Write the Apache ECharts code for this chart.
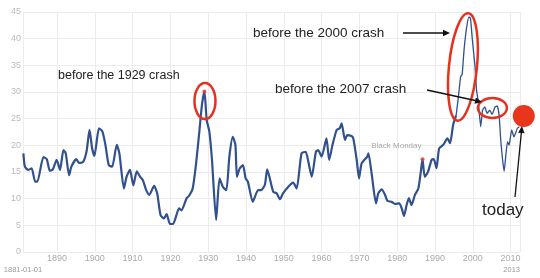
<!DOCTYPE html>
<html><head><meta charset="utf-8">
<script src="https://cdn.jsdelivr.net/npm/echarts@6/dist/echarts.min.js"></script>
<style>html,body{margin:0;padding:0;background:#fff}#c{width:540px;height:278px}</style>
</head><body><div id="c"></div>
<script>
// Shiller P/E (CAPE): decimal year and value
const years = [1881.1,1881.5,1882.4,1883.3,1884.2,1884.8,1886.4,1887.3,1888.1,1888.9,1889.9,1890.8,1891.7,1892.3,1893.2,1893.8,1895.1,1895.8,1896.9,1897.8,1898.6,1899.3,1899.9,1901.1,1902.0,1902.8,1903.7,1904.6,1905.8,1906.5,1907.7,1908.4,1909.3,1910.2,1911.1,1912.0,1912.7,1913.6,1914.4,1915.7,1916.5,1917.4,1918.3,1919.0,1919.9,1920.7,1922.3,1922.9,1924.3,1924.9,1925.9,1926.8,1927.7,1928.4,1929.0,1929.6,1930.3,1931.0,1932.1,1933.0,1933.9,1934.8,1935.6,1936.5,1937.2,1937.6,1938.3,1939.2,1939.9,1940.5,1941.8,1943.2,1944.0,1945.0,1945.6,1946.3,1947.2,1948.1,1949.0,1949.8,1951.2,1952.5,1953.4,1954.7,1955.8,1956.5,1957.4,1958.5,1959.1,1960.0,1961.3,1962.0,1962.9,1964.0,1964.8,1965.3,1966.2,1966.8,1967.9,1968.4,1969.3,1969.9,1970.6,1972.1,1972.4,1973.3,1974.4,1975.0,1975.9,1976.8,1977.4,1978.5,1979.4,1980.5,1981.2,1981.8,1982.5,1983.1,1983.8,1984.7,1985.6,1986.2,1986.7,1987.3,1988.2,1989.1,1989.7,1990.4,1991.1,1992.2,1993.3,1994.0,1994.8,1995.6,1996.2,1996.8,1997.2,1997.7,1998.4,1999.0,1999.4,1999.9,2000.6,2001.0,2001.5,2002.1,2002.6,2003.2,2003.8,2004.5,2005.1,2005.9,2006.5,2007.0,2007.4,2007.9,2008.3,2008.8,2009.2,2009.6,2010.3,2010.9,2011.8,2012.3];
const cape = [18.5,16.0,15.4,15.7,13.2,13.2,17.8,17.4,15.2,15.5,17.3,15.4,19.1,18.5,14.4,16.0,17.4,16.7,16.9,18.8,22.9,19.4,18.0,23.2,22.6,20.1,16.3,16.0,20.1,18.5,11.9,14.1,15.4,12.5,15.1,14.1,13.5,11.6,10.7,12.4,11.0,6.9,6.3,7.1,5.25,5.25,8.2,7.8,10.1,10.5,11.9,16.6,22.9,27.9,30.1,24.75,22.6,17.3,6.0,13.8,12.2,11.6,17.9,21.6,20.1,14.1,15.6,16.3,13.8,13.2,9.4,11.6,11.6,12.6,15.5,13.8,11.3,11.0,9.9,11.0,12.25,13.0,11.9,18.5,18.8,16.9,14.1,18.8,19.1,17.9,21.3,17.25,20.1,22.9,23.2,24.1,21.0,21.9,21.75,21.3,17.25,13.8,16.6,17.9,18.5,14.4,9.1,11.0,11.75,10.7,9.6,9.4,9.0,9.1,8.2,6.75,8.8,10.1,8.8,10.7,11.9,14.75,17.4,14.1,15.1,17.25,17.4,15.7,19.4,20.1,21.3,20.4,23.8,25.6,29.1,32.9,33.3,37.9,42.2,44.1,43.8,39.75,34.75,30.4,27.9,23.5,26.6,27.2,26.0,26.6,25.8,27.2,27.4,25.4,21.0,17.25,15.1,18.5,20.7,20.0,22.9,21.6,23.2,23.5];
const decadeTicks = [1890,1900,1910,1920,1930,1940,1950,1960,1970,1980,1990,2000,2010];
const edgeTicks = [1881, 2012.5];
const edgeLabels = ['1881-01-01', '2013'];
const splitYear = 1995.6;
const eventPoints = [[1929.0, 30.1], [1986.7, 17.4]];

const pairs = years.map((y, i) => [y, cape[i]]);
const early = pairs.filter(p => p[0] <= splitYear);
const late = pairs.filter(p => p[0] >= splitYear);

const chart = echarts.init(document.getElementById('c'), null, {renderer: 'canvas'});
const FONT = '"Liberation Sans", Arial, Helvetica, sans-serif';
const LINE = '#30518c';
chart.setOption({
  animation: false,
  backgroundColor: '#fff',
  grid: {left: 23, right: 20, top: 12, bottom: 26},
  xAxis: [{
    type: 'value', min: 1881, max: 2012.5,
    axisLine: {show: false}, axisTick: {show: false, customValues: decadeTicks.concat(edgeTicks)},
    splitLine: {show: true, lineStyle: {color: '#ececec', width: 1}},
    axisLabel: {customValues: decadeTicks, color: '#aaa', fontSize: 9, fontFamily: FONT, margin: 2, formatter: v => String(v)}
  }, {
    type: 'value', min: 1881, max: 2012.5, position: 'bottom', offset: 12,
    axisLine: {show: false}, axisTick: {show: false}, splitLine: {show: false},
    axisLabel: {customValues: edgeTicks, color: '#999', fontSize: 7.5, fontFamily: FONT, margin: 2,
      formatter: v => edgeLabels[edgeTicks.indexOf(v)] || '',
      alignMaxLabel: 'right'}
  }],
  yAxis: {
    type: 'value', min: 0, max: 45, interval: 5,
    axisLine: {show: false}, axisTick: {show: false},
    splitLine: {lineStyle: {color: '#ececec', width: 1}},
    axisLabel: {color: '#bbb', fontSize: 9, fontFamily: FONT, margin: 2}
  },
  series: [{
    type: 'line', data: early, showSymbol: false, smooth: 0.2,
    lineStyle: {color: LINE, width: 2.2}, z: 3
  }, {
    type: 'line', data: late, showSymbol: false, smooth: 0.15,
    lineStyle: {color: LINE, width: 1.3}, z: 3
  }, {
    type: 'scatter', data: eventPoints, symbolSize: 4, itemStyle: {color: '#e53b2c'}, z: 4
  }]
});

const px = (x, y) => chart.convertToPixel({xAxisIndex: 0, yAxisIndex: 0}, [x, y]);
function arrow(x1, y1, x2, y2) {
  const a = Math.atan2(y2 - y1, x2 - x1), L = 7, W = 3.2;
  const bx = x2 - L * Math.cos(a), by = y2 - L * Math.sin(a);
  return [
    {type: 'line', shape: {x1, y1, x2: bx, y2: by}, style: {stroke: '#111', lineWidth: 1.3}, z: 10},
    {type: 'polygon', shape: {points: [[x2, y2], [bx - W * Math.sin(a), by + W * Math.cos(a)], [bx + W * Math.sin(a), by - W * Math.cos(a)]]}, style: {fill: '#111'}, z: 10}
  ];
}
const RED = '#e5321f';
const e1 = px(1929.15, 28.3), e2 = px(1997.4, 34.7), e3 = px(2005.2, 27.0), dot = px(2013.5, 25.5);
const bm = px(1986.7, 17.4);
const txt = (x, y, s, size, color) => ({type: 'text', x, y, style: {text: s, font: size + 'px ' + FONT, fill: color, textVerticalAlign: 'middle'}, z: 10});
chart.setOption({graphic: [
  {type: 'ellipse', x: e1[0], y: e1[1], shape: {cx: 0, cy: 0, rx: 10.5, ry: 18}, style: {fill: 'none', stroke: RED, lineWidth: 2.5}, z: 9},
  {type: 'ellipse', x: e2[0], y: e2[1], rotation: -0.1, shape: {cx: 0, cy: 0, rx: 14, ry: 54}, style: {fill: 'none', stroke: RED, lineWidth: 2.5}, z: 9},
  {type: 'ellipse', x: e3[0], y: e3[1], shape: {cx: 0, cy: 0, rx: 14.5, ry: 10}, style: {fill: 'none', stroke: RED, lineWidth: 2.5}, z: 9},
  {type: 'circle', shape: {cx: dot[0], cy: dot[1], r: 11}, style: {fill: '#e8361c'}, z: 9},
  txt(58, 76, 'before the 1929 crash', 12.5, '#222'),
  txt(253, 33, 'before the 2000 crash', 13.5, '#222'),
  txt(275, 89, 'before the 2007 crash', 13.5, '#222'),
  txt(482, 210, 'today', 17, '#222'),
  {type: 'text', x: bm[0] - 1, y: bm[1] - 13, style: {text: 'Black Monday', font: '8px ' + FONT, fill: '#aaa', textAlign: 'right', textVerticalAlign: 'middle'}, z: 10},
  ...arrow(403, 33, 450, 33),
  ...arrow(427, 90, 482, 102),
  ...arrow(515, 197, 522, 126)
]});
</script></body></html>
